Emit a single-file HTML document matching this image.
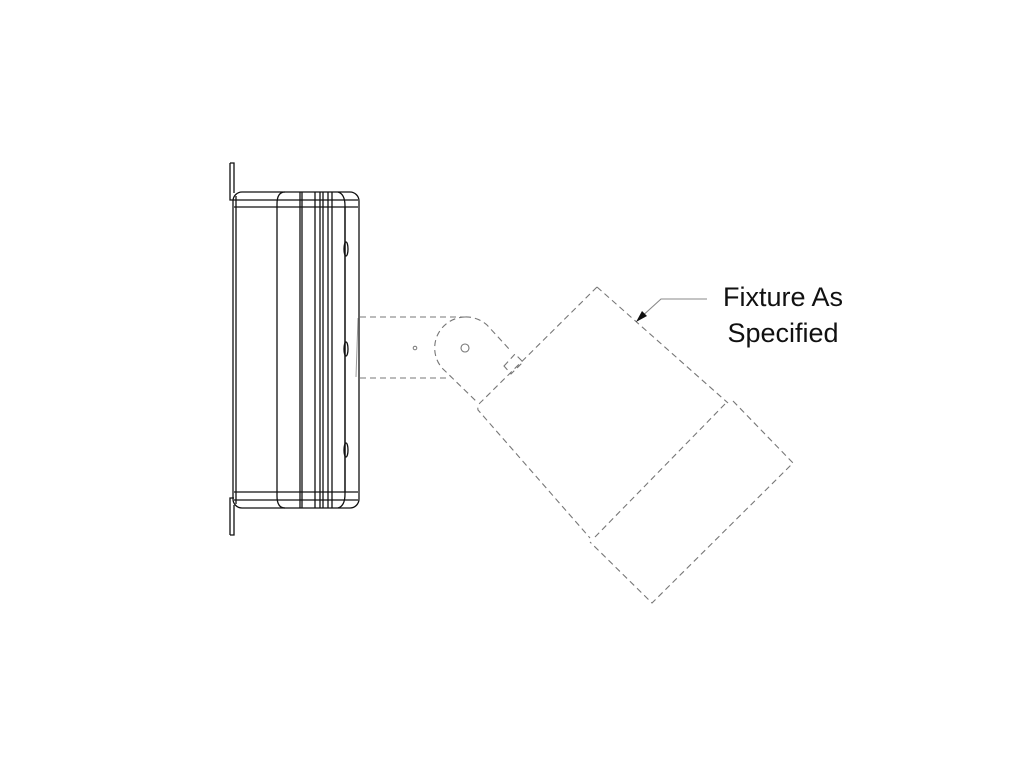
<!DOCTYPE html>
<html><head><meta charset="utf-8"><style>
html,body{margin:0;padding:0;background:#fff;}
svg{display:block}
</style></head><body>
<svg width="1024" height="768" viewBox="0 0 1024 768" xmlns="http://www.w3.org/2000/svg">
<rect width="1024" height="768" fill="#fff"/>
<g fill="none" stroke="#111" stroke-width="1.3">
  <path d="M230,163 L234,163 L234,193 M230,163 L230,200 L234,200"/>
  <path d="M230,535 L234,535 L234,505 M230,535 L230,498 L234,498"/>
  <rect x="233" y="192" width="126" height="316" rx="9"/>
  <line x1="236" y1="196" x2="236" y2="504"/>
  <line x1="234" y1="200" x2="358" y2="200"/>
  <line x1="234" y1="207" x2="358" y2="207"/>
  <line x1="234" y1="492" x2="358" y2="492"/>
  <line x1="234" y1="500" x2="358" y2="500"/>
  <path d="M285,192 Q277,192 277,204 L277,496 Q277,508 285,508"/>
  <line x1="300" y1="192" x2="300" y2="508"/>
  <line x1="302" y1="192" x2="302" y2="508"/>
  <line x1="315" y1="192" x2="315" y2="508"/>
  <line x1="320" y1="192" x2="320" y2="508"/>
  <line x1="323" y1="192" x2="323" y2="508"/>
  <line x1="328" y1="192" x2="328" y2="508"/>
  <line x1="332" y1="192" x2="332" y2="508"/>
  <path d="M338,192 Q345,194 345,206 L345,494 Q345,506 338,508"/>
  <line x1="345" y1="207" x2="345" y2="492"/>
  <ellipse cx="346" cy="249" rx="2" ry="7"/>
  <ellipse cx="346" cy="349" rx="2" ry="7"/>
  <ellipse cx="346" cy="450" rx="2" ry="7"/>
</g>
<g fill="none" stroke="#777" stroke-width="1.1" stroke-dasharray="6,4">
  <line x1="360" y1="317" x2="465" y2="317"/>
  <line x1="360" y1="378" x2="448" y2="378"/>
  <path d="M465,317 A31,31 0 0 1 487,325 L510,350"/>
  <path d="M465,317 A31,31 0 0 0 442,368 L478,403"/>
  <path d="M504,366 L515,354 L523,362 L511,374 Z"/>
  <path d="M597,287 L728,403 M597,287 L482,401 Q477,405 478,410 L590,538"/>
  <path d="M733,401 L793,463 L652,603 L590,542"/>
  <line x1="725" y1="404" x2="595" y2="537"/>
</g>
<line x1="358" y1="318" x2="356" y2="377" stroke="#999" stroke-width="1"/>
<circle cx="465" cy="348" r="4" fill="none" stroke="#777" stroke-width="1.1"/>
<circle cx="415" cy="348" r="1.8" fill="none" stroke="#777" stroke-width="1"/>
<path d="M707,299 L661,299 L639,319" fill="none" stroke="#888" stroke-width="1.1"/>
<path d="M636,322 L642,311 L647,316 Z" fill="#111"/>
<g font-family="'Liberation Sans', sans-serif" font-size="27" fill="#111" text-anchor="middle">
  <text x="783" y="306">Fixture As</text>
  <text x="783" y="342">Specified</text>
</g>
</svg>
</body></html>
